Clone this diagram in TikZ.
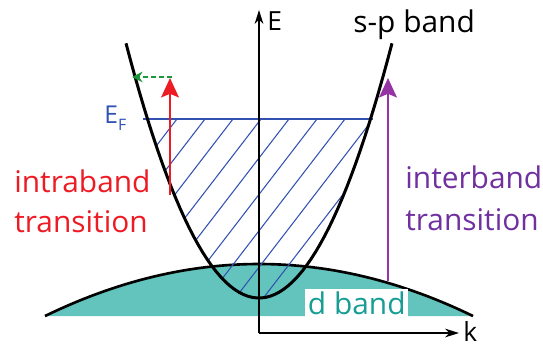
\documentclass[tikz,border=0pt]{standalone}
\usepackage{fontspec}
\setmainfont{Open Sans}
\usetikzlibrary{positioning,arrows.meta,calc}
\definecolor{intrared}{RGB}{237,28,36}
\definecolor{interpurple}{RGB}{112,48,160}
\definecolor{arrowpurple}{RGB}{150,52,165}
\definecolor{fermiblue}{RGB}{50,82,178}
\definecolor{dteal}{RGB}{98,196,188}
\definecolor{dtext}{RGB}{22,158,148}
\definecolor{shiftgreen}{RGB}{30,150,60}

\begin{document}
\begin{tikzpicture}[
    x=0.02cm, y=-0.02cm,
    lbl/.style={font=\fontsize{17}{20}\selectfont, inner sep=0pt, anchor=base west},
    axis/.style={-{Stealth[length=8pt,width=5pt]}, line width=0.7pt},
    trans/.style={-{Stealth[length=11pt,width=10pt,inset=2pt]}, line width=1.6pt},
    hatch/.style={fermiblue, line width=0.6pt}
]
\useasboundingbox (0,0) rectangle (543,345);

% d band
\fill[dteal] plot[domain=-214:214, samples=60] ({259+\x},{264+(0.0337*\x)*(0.0337*\x)}) -- cycle;
\draw[line width=1.5pt] plot[domain=-214:214, samples=60] ({259+\x},{264+(0.0337*\x)*(0.0337*\x)});
\node[lbl, fill=white, inner sep=1.5pt, text=dtext] (dband) at (305,314) {d band};

% filled states below E_F
\begin{scope}
  \clip plot[domain=-111.5:111.5, samples=40] ({259+\x},{298-(0.12*\x)*(0.12*\x)}) -- cycle;
  \foreach \i in {0,...,12}
    \draw[hatch] ({177+28*\i},119) -- ++(-160,208);
\end{scope}
\coordinate (efl) at (143,119);
\coordinate (efr) at (373,119);
\draw[fermiblue, line width=0.8pt] (efl) -- (efr);
\node[font=\fontsize{14}{16}\selectfont, text=fermiblue, inner sep=0pt, anchor=base west] (ef) at (104,123) {E\raisebox{-4pt}{\fontsize{9}{9}\selectfont F}};

% axes
\coordinate (origin) at (259,333);
\coordinate (etop) at (259,10);
\coordinate (kend) at (459,333);
\draw[axis] (origin) -- (etop);
\draw[axis] (origin) -- (kend);
\node[font=\fontsize{15}{18}\selectfont, inner sep=0pt, anchor=base west] (elbl) at (267,30) {E};
\node[font=\fontsize{15}{18}\selectfont, inner sep=0pt, anchor=base west] (klbl) at (463,341) {k};

% s-p band
\draw[line width=1.7pt] plot[domain=-133:133, samples=60] ({259+\x},{298-(0.12*\x)*(0.12*\x)});
\node[lbl] (spband) at (353,32) {s-p band};

% intraband
\coordinate (rbot) at (170,195);
\coordinate (rtop) at (170,78);
\coordinate (gstart) at (172,77);
\coordinate (gend) at (132,77);
\draw[trans, intrared] (rbot) -- (rtop);
\draw[-{Stealth[length=6pt,width=6pt]}, shiftgreen, line width=1.3pt, dash pattern=on 3pt off 1.5pt] (gstart) -- (gend);
\node[lbl, text=intrared] (intra) at (14,192) {intraband};
\node[lbl, text=intrared] (intratr) at (14,232) {transition};

% interband
\coordinate (pbot) at (388,281);
\coordinate (ptop) at (388,78);
\draw[trans, arrowpurple] (pbot) -- (ptop);
\node[lbl, text=interpurple] (inter) at (405,188) {interband};
\node[lbl, text=interpurple] (intertr) at (405,230) {transition};
\end{tikzpicture}
\end{document}
